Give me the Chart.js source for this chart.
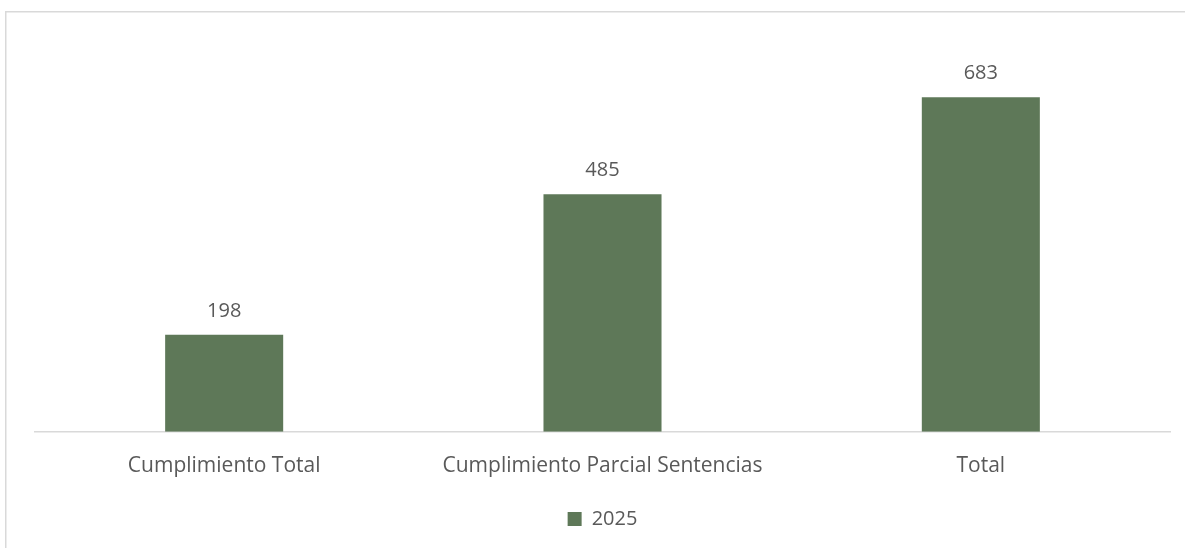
<!DOCTYPE html>
<html>
<head>
<meta charset="utf-8">
<script src="https://cdn.jsdelivr.net/npm/chart.js@4/dist/chart.umd.min.js"></script>
<style>
  html, body { margin: 0; padding: 0; background: #ffffff; }
  #wrap { width: 1185px; height: 548px; position: relative; }
</style>
</head>
<body>
<div id="wrap"><canvas id="chart" width="1185" height="548"></canvas></div>
<script>
// Categories and values
const categories = ['Cumplimiento Total', 'Cumplimiento Parcial Sentencias', 'Total'];
const seriesLabel = '2025';
const values2025 = [198, 485, 683];

const barColor = '#5e7858';
const textColor = '#595959';
const fontFamily = "'Open Sans', 'Liberation Sans', sans-serif";

// Frame lines along the top and left edges of the chart area
const framePlugin = {
  id: 'frame',
  beforeDraw(chart) {
    const ctx = chart.ctx;
    ctx.save();
    ctx.fillStyle = '#ffffff';
    ctx.fillRect(0, 0, chart.width, chart.height);
    ctx.strokeStyle = '#d9d9d9';
    ctx.lineWidth = 1.5;
    ctx.beginPath();
    ctx.moveTo(5.75, chart.height);
    ctx.lineTo(5.75, 11.75);
    ctx.lineTo(chart.width, 11.75);
    ctx.stroke();
    ctx.restore();
  }
};

// Value labels above each bar
const valueLabels = {
  id: 'valueLabels',
  afterDatasetsDraw(chart) {
    const ctx = chart.ctx;
    ctx.save();
    ctx.font = '20px ' + fontFamily;
    ctx.fillStyle = textColor;
    ctx.textAlign = 'center';
    ctx.textBaseline = 'bottom';
    chart.data.datasets.forEach((ds, di) => {
      chart.getDatasetMeta(di).data.forEach((bar, i) => {
        ctx.fillText(String(ds.data[i]), bar.x, bar.y - 14);
      });
    });
    ctx.restore();
  }
};

new Chart(document.getElementById('chart'), {
  type: 'bar',
  data: {
    labels: categories,
    datasets: [{
      label: seriesLabel,
      data: values2025,
      backgroundColor: barColor,
      borderWidth: 0,
      categoryPercentage: 1,
      barPercentage: 0.312
    }]
  },
  options: {
    responsive: false,
    animation: false,
    layout: { padding: { left: 35, right: 15, top: 40, bottom: 9 } },
    plugins: {
      legend: {
        position: 'bottom',
        labels: {
          boxWidth: 14,
          boxHeight: 14,
          padding: 8,
          color: textColor,
          font: { family: fontFamily, size: 20 }
        }
      },
      tooltip: { enabled: false }
    },
    scales: {
      x: {
        grid: { display: false, drawTicks: false },
        border: { color: '#d9d9d9', width: 1.5 },
        ticks: {
          color: textColor,
          padding: 22,
          font: { family: fontFamily, size: 21 }
        }
      },
      y: {
        display: false,
        min: 0,
        max: 800
      }
    }
  },
  plugins: [framePlugin, valueLabels]
});
</script>
</body>
</html>
